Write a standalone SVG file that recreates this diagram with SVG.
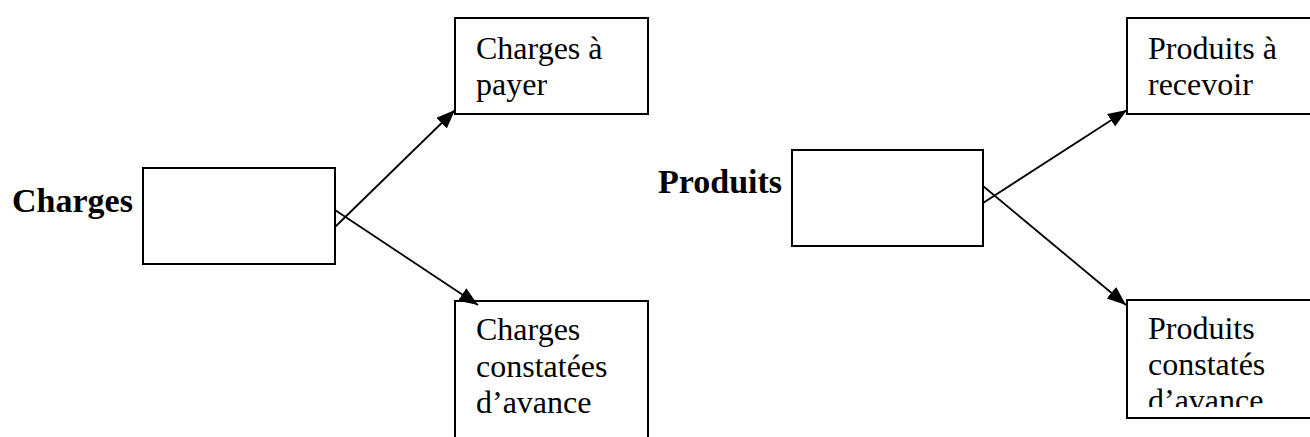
<svg xmlns="http://www.w3.org/2000/svg" width="1310" height="437" viewBox="0 0 1310 437">
<style>
.box{fill:#fff;stroke:#000;stroke-width:2}
.t{font-family:"Liberation Serif","Times New Roman",serif;font-size:32px;fill:#000}
.b{font-family:"Liberation Serif","Times New Roman",serif;font-size:34px;font-weight:bold;fill:#000}
.c{fill:none;stroke:#000;stroke-width:1.8}
</style>
<defs>
<marker id="ah" markerUnits="userSpaceOnUse" markerWidth="20" markerHeight="16" refX="19" refY="7.5" orient="auto">
<path d="M0,0 L19,7.5 L0,15 z" fill="#000"/>
</marker>
<clipPath id="clipPC"><rect x="1128" y="301" width="190" height="106"/></clipPath>
</defs>
<rect width="1310" height="437" fill="#fff"/>
<g id="charges">
<text class="b" x="12" y="212">Charges</text>
<rect class="box" x="143" y="168" width="192" height="96"/>
</g>
<g id="charges-a-payer">
<rect class="box" x="455" y="18" width="193" height="96"/>
<text class="t" x="476" y="59">Charges à</text>
<text class="t" x="476" y="95">payer</text>
</g>
<g id="charges-constatees">
<path class="box" d="M455,445 V301 H648 V445"/>
<text class="t" x="476" y="340">Charges</text>
<text class="t" x="476" y="377">constatées</text>
<text class="t" x="476" y="413">d’avance</text>
</g>
<g id="produits">
<text class="b" x="658" y="193">Produits</text>
<rect class="box" x="792" y="150" width="191" height="96"/>
</g>
<g id="produits-a-recevoir">
<rect class="box" x="1127" y="18" width="200" height="96"/>
<text class="t" x="1148" y="59">Produits à</text>
<text class="t" x="1148" y="95">recevoir</text>
</g>
<g id="produits-constates">
<rect class="box" x="1127" y="300" width="200" height="118"/>
<g clip-path="url(#clipPC)">
<text class="t" x="1148" y="339">Produits</text>
<text class="t" x="1148" y="375">constatés</text>
<text class="t" x="1148" y="411">d’avance</text>
</g>
</g>
<g id="connectors">
<line class="c" x1="335" y1="227" x2="455" y2="110" marker-end="url(#ah)"/>
<line class="c" x1="335" y1="210" x2="478" y2="305" marker-end="url(#ah)"/>
<line class="c" x1="983" y1="203" x2="1127" y2="110" marker-end="url(#ah)"/>
<line class="c" x1="983" y1="186" x2="1126" y2="305" marker-end="url(#ah)"/>
</g>
</svg>
